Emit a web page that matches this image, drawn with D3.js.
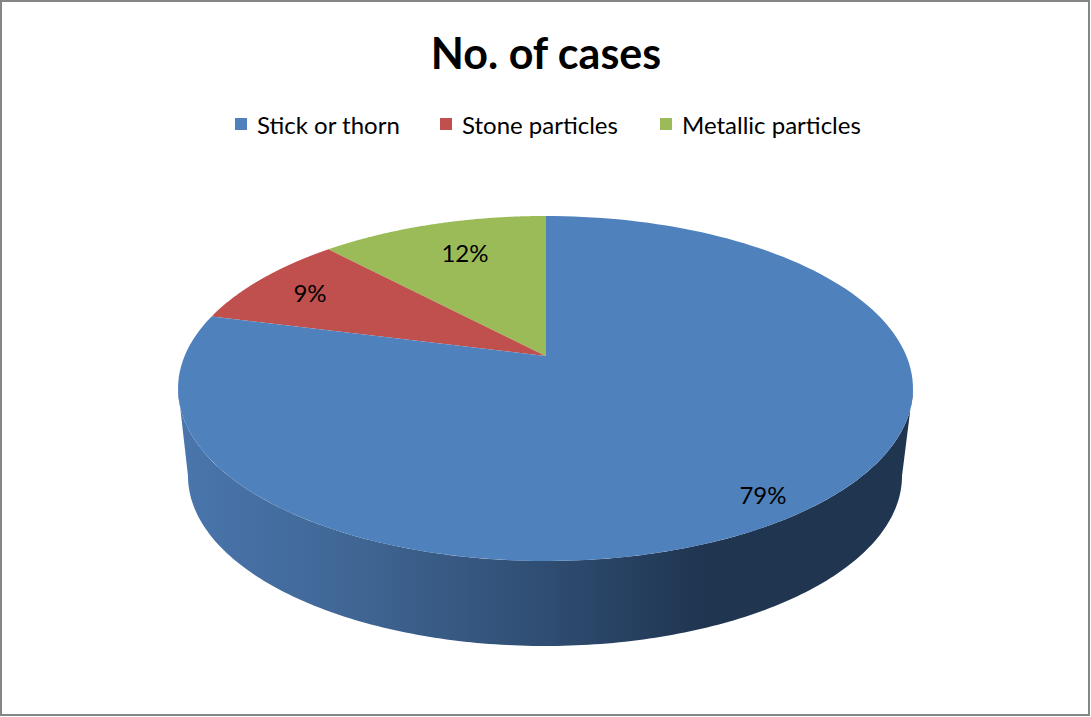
<!DOCTYPE html>
<html>
<head>
<meta charset="utf-8">
<style>
  html, body { margin: 0; padding: 0; background: #fff; }
  svg { display: block; }
  text { font-family: Lato, "Open Sans", sans-serif; fill: #000; }
</style>
<script src="https://cdn.jsdelivr.net/npm/d3@7"></script>
</head>
<body>
<svg id="chart" width="1091" height="717"></svg>
<script>
const chartTitle = "No. of cases";
const categories = ["Metallic particles", "Stone particles", "Stick or thorn"];
const shares = [12, 9, 79];
const legendOrder = ["Stick or thorn", "Stone particles", "Metallic particles"];
const sliceColors = ["#9BBB59", "#C0504D", "#4F81BD"];
const wallStops = [
  [0, "#4a76ad"], [0.25, "#3f6593"], [0.5, "#2f4d72"], [0.72, "#1f3550"], [1, "#1f3550"]
];

const width = 1091, height = 717;
const svg = d3.select("#chart");

// Disc geometry: a circle seen in perspective, so the pie centre sits above the ellipse centre.
const pivot = { x: 545.5, y: 356 };
const tilt = 0.1884, spanX = 360.9, spanY = 166.4;
const project = (angle, r = 1) => {
  const X = Math.sin(angle) * r, Y = -Math.cos(angle) * r;
  const w = 1 - tilt * Y;
  return [pivot.x + spanX * X / w, pivot.y + spanY * Y / w];
};

const arcs = d3.pie().sort(null).value(d => d).startAngle(0).endAngle(-2 * Math.PI)(shares);
const line = d3.line();

// Outline of one slice, sampled along the projected rim.
const slicePath = a => {
  const steps = d3.range(0, 161).map(i => project(a.startAngle + (a.endAngle - a.startAngle) * i / 160));
  return line([[pivot.x, pivot.y], ...steps]) + "Z";
};

// Side wall: lower half of the base ellipse joined to the rim of the top disc.
const base = { cx: 545, cy: 476, rx: 357, ry: 170 };
const rimCentreY = pivot.y + spanY * tilt / (1 - tilt * tilt);
const rimRy = spanY / (1 - tilt * tilt);
const rimRx = spanX / Math.sqrt(1 - tilt * tilt);
const half = d3.range(0, 181).map(d => d * Math.PI / 180);
const wallOutline = [
  ...half.map(t => [pivot.x + rimRx * Math.cos(t), rimCentreY + rimRy * Math.sin(t)]),
  ...half.slice().reverse().map(t => [base.cx + base.rx * Math.cos(t), base.cy + base.ry * Math.sin(t)])
];

const defs = svg.append("defs");
const grad = defs.append("linearGradient")
  .attr("id", "wallShade")
  .attr("gradientUnits", "userSpaceOnUse")
  .attr("x1", base.cx - rimRx).attr("x2", base.cx + rimRx)
  .attr("y1", 0).attr("y2", 0);
grad.selectAll("stop").data(wallStops).join("stop")
  .attr("offset", d => d[0]).attr("stop-color", d => d[1]);

// Frame
svg.append("rect")
  .attr("x", 1).attr("y", 1)
  .attr("width", width - 3).attr("height", height - 3)
  .attr("fill", "#fff").attr("stroke", "#868686").attr("stroke-width", 2);

svg.append("path")
  .attr("d", line(wallOutline) + "Z")
  .attr("fill", "url(#wallShade)");

svg.append("g").selectAll("path").data(arcs).join("path")
  .attr("d", slicePath)
  .attr("fill", (d, i) => sliceColors[i]);

// Percentage labels
const labelAnchors = [[465, 252], [310, 292], [763, 494]];
svg.append("g").selectAll("text").data(shares).join("text")
  .attr("x", (d, i) => labelAnchors[i][0])
  .attr("y", (d, i) => labelAnchors[i][1])
  .attr("text-anchor", "middle")
  .attr("dominant-baseline", "central")
  .attr("font-size", 24)
  .text(d => d + "%");

svg.append("text")
  .attr("x", 546).attr("y", 69)
  .attr("text-anchor", "middle")
  .attr("font-size", 43).attr("font-weight", 700)
  .text(chartTitle);

// Legend
const legendX = [235, 440, 660];
const legend = svg.append("g").selectAll("g").data(legendOrder).join("g")
  .attr("transform", (d, i) => `translate(${legendX[i]},118)`);
legend.append("rect")
  .attr("width", 12).attr("height", 12)
  .attr("fill", d => sliceColors[categories.indexOf(d)]);
legend.append("text")
  .attr("x", 22).attr("y", 6)
  .attr("dominant-baseline", "central")
  .attr("font-size", 24)
  .text(d => d);
</script>
</body>
</html>
